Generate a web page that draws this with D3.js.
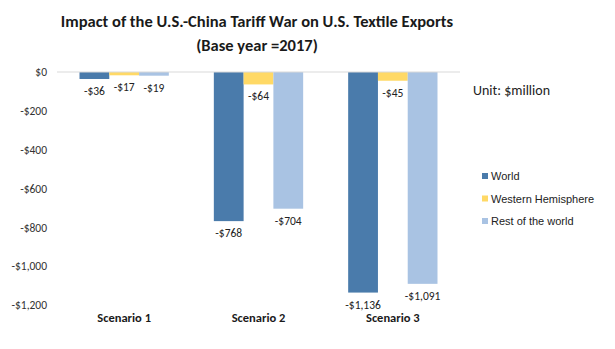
<!DOCTYPE html>
<html>
<head>
<meta charset="utf-8">
<script src="https://cdn.jsdelivr.net/npm/d3@7/dist/d3.min.js"></script>
<style>
  body { margin: 0; background: #fff; }
  svg { display: block; font-family: Carlito, Lato, "Open Sans", sans-serif; }
</style>
</head>
<body>
<svg id="chart"></svg>
<script>
var scenarios = ["Scenario 1", "Scenario 2", "Scenario 3"];
var seriesNames = ["World", "Western Hemisphere", "Rest of the world"];
var world = [-36, -768, -1136];
var westernHemisphere = [-17, -64, -45];
var restOfWorld = [-19, -704, -1091];
var yTicks = [0, -200, -400, -600, -800, -1000, -1200];

var colors = ["#4a7bab", "#ffd966", "#a9c3e3"];
var seriesValues = [world, westernHemisphere, restOfWorld];

var width = 615, height = 349;
var svg = d3.select("#chart")
  .attr("width", width)
  .attr("height", height);

function money(v) {
  return v === 0 ? "$0" : "-$" + d3.format(",")(Math.abs(v));
}

// title
var title = svg.append("g")
  .attr("font-weight", "bold")
  .attr("font-size", 16.5)
  .attr("fill", "#1a1a1a")
  .attr("text-anchor", "middle");
title.append("text").attr("x", 257).attr("y", 27)
  .text("Impact of the U.S.-China Tariff War on U.S. Textile Exports");
title.append("text").attr("x", 257).attr("y", 51)
  .text("(Base year =2017)");

var x0 = d3.scaleBand()
  .domain(scenarios)
  .range([57, 460])
  .paddingInner(0.335)
  .paddingOuter(0.1675);

var x1 = d3.scaleBand()
  .domain(seriesNames)
  .range([0, x0.bandwidth()]);

var y = d3.scaleLinear()
  .domain([-1200, 0])
  .range([305, 72]);

// y axis labels only, no line or ticks
var yAxis = svg.append("g")
  .attr("transform", "translate(47,0)")
  .call(d3.axisLeft(y).tickValues(yTicks).tickSize(0).tickPadding(0)
    .tickFormat(money));
yAxis.select(".domain").remove();
yAxis.selectAll("text")
  .attr("font-family", "Carlito, Lato, 'Open Sans', sans-serif")
  .attr("font-size", 11.5)
  .attr("fill", "#333");

// bars
var rows = [];
scenarios.forEach(function (s, i) {
  seriesNames.forEach(function (n, j) {
    rows.push({scenario: s, series: n, value: seriesValues[j][i], color: colors[j]});
  });
});

svg.append("g")
  .selectAll("rect")
  .data(rows)
  .enter().append("rect")
  .attr("x", function (d) { return x0(d.scenario) + x1(d.series); })
  .attr("y", y(0))
  .attr("width", x1.bandwidth())
  .attr("height", function (d) { return y(d.value) - y(0); })
  .attr("fill", function (d) { return d.color; });

// zero line drawn over bar tops
svg.append("line")
  .attr("x1", 57).attr("x2", 460)
  .attr("y1", y(0)).attr("y2", y(0))
  .attr("stroke", "#d9d9d9")
  .attr("stroke-width", 1);

// value labels under each bar
svg.append("g")
  .attr("font-size", 11.5)
  .attr("fill", "#222")
  .attr("text-anchor", "middle")
  .selectAll("text")
  .data(rows)
  .enter().append("text")
  .attr("x", function (d) { return x0(d.scenario) + x1(d.series) + x1.bandwidth() / 2; })
  .attr("y", function (d) { return y(d.value) + 16; })
  .text(function (d) { return money(d.value); });

// category labels
svg.append("g")
  .attr("font-size", 12.5)
  .attr("font-weight", "bold")
  .attr("fill", "#1a1a1a")
  .attr("text-anchor", "middle")
  .selectAll("text")
  .data(scenarios)
  .enter().append("text")
  .attr("x", function (d) { return x0(d) + x0.bandwidth() / 2; })
  .attr("y", 322)
  .text(function (d) { return d; });

svg.append("text")
  .attr("x", 473).attr("y", 95)
  .attr("font-size", 14)
  .attr("fill", "#222")
  .text("Unit: $million");

// legend
var legend = svg.append("g")
  .selectAll("g")
  .data(seriesNames)
  .enter().append("g")
  .attr("transform", function (d, i) { return "translate(482," + (176 + i * 22.5) + ")"; });
legend.append("rect")
  .attr("x", 0).attr("y", -3)
  .attr("width", 6).attr("height", 6)
  .attr("fill", function (d, i) { return colors[i]; });
legend.append("text")
  .attr("x", 9).attr("y", 4)
  .attr("font-family", "'Liberation Sans', Arial, sans-serif")
  .attr("font-size", 11)
  .attr("fill", "#222")
  .text(function (d) { return d; });
</script>
</body>
</html>
